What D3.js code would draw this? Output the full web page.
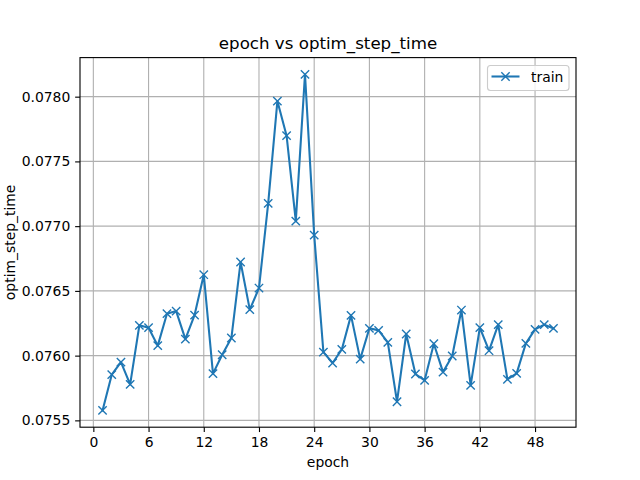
<!DOCTYPE html>
<html><head><meta charset="utf-8">
<script src="https://cdn.jsdelivr.net/npm/d3@7"></script>
<style>body{margin:0;background:#fff}svg{display:block}text{font-family:"DejaVu Sans",sans-serif;fill:#000}</style>
</head><body>
<script>
const epochs = d3.range(1, 51);
const optimStepTime = [0.075577,0.075853,0.075950,0.075778,0.076234,0.076216,0.076077,0.076324,0.076344,0.076128,
0.076313,0.076625,0.075861,0.076007,0.076136,0.076723,0.076355,0.076522,0.077176,0.077966,
0.077699,0.077039,0.078172,0.076931,0.076027,0.075943,0.076048,0.076311,0.075973,0.076211,
0.076195,0.076102,0.075644,0.076167,0.075858,0.075809,0.076092,0.075873,0.075997,0.076352,
0.075770,0.076216,0.076038,0.076239,0.075817,0.075863,0.076095,0.076203,0.076239,0.076211];
const xTicks = [0,6,12,18,24,30,36,42,48];
const yTicks = [0.0755,0.0760,0.0765,0.0770,0.0775,0.0780];
const seriesName = "train";

const W=640,H=480, L=80,R=576,T=57.6,B=427.2;
const color="#1f77b4";
const svg=d3.select("body").append("svg").attr("width",W).attr("height",H);
const xmin=1,xmax=50, xm=(xmax-xmin)*0.05;
const ymin=d3.min(optimStepTime), ymax=d3.max(optimStepTime), ym=(ymax-ymin)*0.05;
const x=d3.scaleLinear().domain([xmin-xm,xmax+xm]).range([L,R]);
const y=d3.scaleLinear().domain([ymin-ym,ymax+ym]).range([B,T]);

// grid
const g=svg.append("g");
g.selectAll(".gx").data(xTicks).enter().append("line")
 .attr("x1",d=>x(d)).attr("x2",d=>x(d)).attr("y1",T).attr("y2",B)
 .attr("stroke","#b0b0b0").attr("stroke-width",1.11);
g.selectAll(".gy").data(yTicks).enter().append("line")
 .attr("y1",d=>y(d)).attr("y2",d=>y(d)).attr("x1",L).attr("x2",R)
 .attr("stroke","#b0b0b0").attr("stroke-width",1.11);

// axes
const xAxis=svg.append("g").attr("transform",`translate(0,${B})`)
 .call(d3.axisBottom(x).tickValues(xTicks).tickSize(4.86).tickPadding(4.86).tickFormat(d3.format("d")));
const yAxis=svg.append("g").attr("transform",`translate(${L},0)`)
 .call(d3.axisLeft(y).tickValues(yTicks).tickSize(4.86).tickPadding(4.86).tickFormat(d3.format(".4f")));
[xAxis,yAxis].forEach(a=>{a.select(".domain").remove();
 a.selectAll("line").attr("stroke","#000").attr("stroke-width",1.11);
 a.selectAll("text").attr("font-size","13.9px").attr("font-family","DejaVu Sans").attr("fill","#000");});

// line
const plot=svg.append("g");
plot.append("path").datum(epochs.map((e,i)=>[e,optimStepTime[i]]))
 .attr("d",d3.line().x(d=>x(d[0])).y(d=>y(d[1])))
 .attr("fill","none").attr("stroke",color).attr("stroke-width",2.08).attr("stroke-linejoin","round").attr("stroke-linecap","square");
const s=4.17;
plot.selectAll(".m").data(epochs.map((e,i)=>[e,optimStepTime[i]])).enter().append("path")
 .attr("d",d=>{const cx=x(d[0]),cy=y(d[1]);return `M${cx-s},${cy-s}L${cx+s},${cy+s}M${cx-s},${cy+s}L${cx+s},${cy-s}`;})
 .attr("stroke",color).attr("stroke-width",1.39).attr("fill","none");

// spines
svg.append("rect").attr("x",L).attr("y",T).attr("width",R-L).attr("height",B-T)
 .attr("fill","none").attr("stroke","#000").attr("stroke-width",1.11);

// title & labels
svg.append("text").attr("x",(L+R)/2).attr("y",T-8.33).attr("text-anchor","middle").attr("font-size","16.67px").text("epoch vs optim_step_time");
svg.append("text").attr("x",(L+R)/2).attr("y",467).attr("text-anchor","middle").attr("font-size","13.9px").text("epoch");
svg.append("text").attr("transform",`translate(15,${(T+B)/2}) rotate(-90)`).attr("text-anchor","middle").attr("font-size","13.9px").text("optim_step_time");

// legend
const lg=svg.append("g");
lg.append("rect").attr("x",487.5).attr("y",65.5).attr("width",81.5).attr("height",25).attr("rx",3)
 .attr("fill","#fff").attr("fill-opacity",0.8).attr("stroke","#cccccc").attr("stroke-width",1.11);
const ly=76.5;
lg.append("line").attr("x1",491.5).attr("x2",519.5).attr("y1",ly).attr("y2",ly).attr("stroke",color).attr("stroke-width",2.08);
lg.append("path").attr("d",`M${505.5-s},${ly-s}L${505.5+s},${ly+s}M${505.5-s},${ly+s}L${505.5+s},${ly-s}`).attr("stroke",color).attr("stroke-width",1.39);
lg.append("text").attr("x",531).attr("y",ly+5).attr("font-size","13.9px").text(seriesName);
</script>
</body></html>
